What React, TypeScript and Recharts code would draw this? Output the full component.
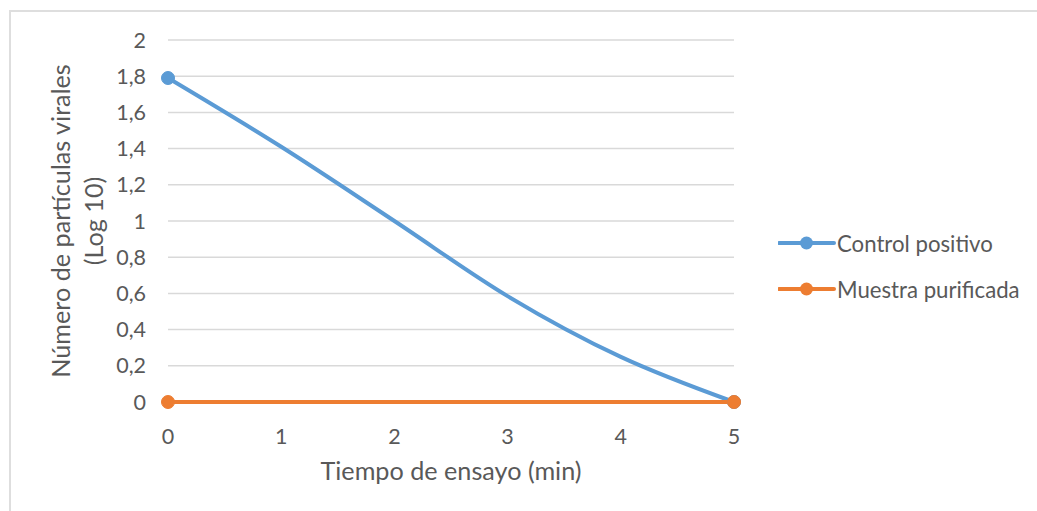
import React from 'react';
import {
  LineChart,
  Line,
  XAxis,
  YAxis,
  CartesianGrid,
  Legend,
  Label,
} from 'recharts';

const times = [0, 1, 2, 3, 4, 5];
const controlPositivo = [1.79, 1.41, 1.0, 0.585, 0.249, 0];
const muestraPurificada = [0, 0, 0, 0, 0, 0];
const yTicks = [0, 0.2, 0.4, 0.6, 0.8, 1, 1.2, 1.4, 1.6, 1.8, 2];
const yTickLabels = ['0', '0,2', '0,4', '0,6', '0,8', '1', '1,2', '1,4', '1,6', '1,8', '2'];
const xTicks = [0, 1, 2, 3, 4, 5];
const seriesNames = ['Control positivo', 'Muestra purificada'];
const xTitle = 'Tiempo de ensayo (min)';
const yTitleLines = ['Número de partículas virales', '(Log 10)'];

const BLUE = '#5b9bd5';
const ORANGE = '#ed7d31';
const TEXT = '#595959';
const GRID = '#d9d9d9';
const FONT = 'Lato, "Open Sans", sans-serif';

const data = times.map((t, i) => ({
  t,
  control: controlPositivo[i],
  muestra: muestraPurificada[i],
}));

const makeDot = (color: string) => (props: any) => {
  const { cx, cy, index } = props;
  if (index === 0 || index === data.length - 1) {
    return <circle key={`d-${color}-${index}`} cx={cx} cy={cy} r={6.5} fill={color} stroke={color} strokeWidth={1} />;
  }
  return <g key={`d-${color}-${index}`} />;
};

const YTitle = () => {
  const cy = 221;
  const x1 = 70;
  const x2 = 103;
  return (
    <g>
      <text
        x={x1}
        y={cy}
        transform={`rotate(-90, ${x1}, ${cy})`}
        textAnchor="middle"
        fill={TEXT}
        fontFamily={FONT}
        fontSize={25.2}
      >
        {yTitleLines[0]}
      </text>
      <text
        x={x2}
        y={cy}
        transform={`rotate(-90, ${x2}, ${cy})`}
        textAnchor="middle"
        fill={TEXT}
        fontFamily={FONT}
        fontSize={25.2}
      >
        {yTitleLines[1]}
      </text>
    </g>
  );
};

const LegendContent = (props: any) => {
  const payload = props.payload || [];
  return (
    <div>
      {payload.map((p: any, i: number) => (
        <div
          key={i}
          style={{ display: 'flex', alignItems: 'center', height: 46, whiteSpace: 'nowrap' }}
        >
          <svg width={58} height={16} style={{ display: 'block' }}>
            <line x1={1} y1={8} x2={56} y2={8} stroke={p.color} strokeWidth={4} strokeLinecap="round" />
            <circle cx={28.5} cy={8} r={6.5} fill={p.color} />
          </svg>
          <span style={{ color: TEXT, fontFamily: FONT, fontSize: 22.2, marginLeft: 1 }}>{p.value}</span>
        </div>
      ))}
    </div>
  );
};

export default function App() {
  return (
    <div
      style={{
        position: 'absolute',
        left: 0,
        top: 0,
        width: 1037,
        height: 511,
        overflow: 'hidden',
        background: '#ffffff',
      }}
    >
      <div
        style={{
          position: 'absolute',
          left: 9,
          top: 10,
          width: 1040,
          height: 520,
          borderTop: `2px solid #dedede`,
          borderLeft: `2px solid #dedede`,
          boxSizing: 'border-box',
        }}
      />
      <div style={{ position: 'absolute', left: 0, top: 0 }}>
        <LineChart
          width={1037}
          height={511}
          data={data}
          margin={{ top: 40, right: 303, bottom: 29, left: 0 }}
        >
          <CartesianGrid vertical={false} stroke={GRID} strokeWidth={1.5} />
          <XAxis
            dataKey="t"
            type="number"
            domain={[0, 5]}
            ticks={xTicks}
            height={80}
            axisLine={false}
            tickLine={false}
            tickSize={0}
            tickMargin={27}
            tick={{ fill: TEXT, fontFamily: FONT, fontSize: 21.5 }}
          >
            <Label
              value={xTitle}
              position="insideBottom"
              offset={2}
              fill={TEXT}
              fontFamily={FONT}
              fontSize={25.2}
            />
          </XAxis>
          <YAxis
            type="number"
            domain={[0, 2]}
            ticks={yTicks}
            width={168}
            axisLine={false}
            tickLine={false}
            tickSize={0}
            tickMargin={22}
            interval={0}
            tickFormatter={(v: number) => yTickLabels[yTicks.indexOf(v)] ?? String(v)}
            tick={{ fill: TEXT, fontFamily: FONT, fontSize: 21.5 }}
            label={<YTitle />}
          />
          <Legend
            layout="horizontal"
            verticalAlign="middle"
            align="center"
            content={<LegendContent />}
            wrapperStyle={{ left: 778, top: 220, width: 259, height: 92 }}
          />
          <Line
            name={seriesNames[0]}
            dataKey="control"
            type="monotone"
            stroke={BLUE}
            strokeWidth={4}
            dot={makeDot(BLUE)}
            activeDot={false}
            isAnimationActive={false}
          />
          <Line
            name={seriesNames[1]}
            dataKey="muestra"
            type="monotone"
            stroke={ORANGE}
            strokeWidth={4}
            dot={makeDot(ORANGE)}
            activeDot={false}
            isAnimationActive={false}
          />
        </LineChart>
      </div>
    </div>
  );
}
